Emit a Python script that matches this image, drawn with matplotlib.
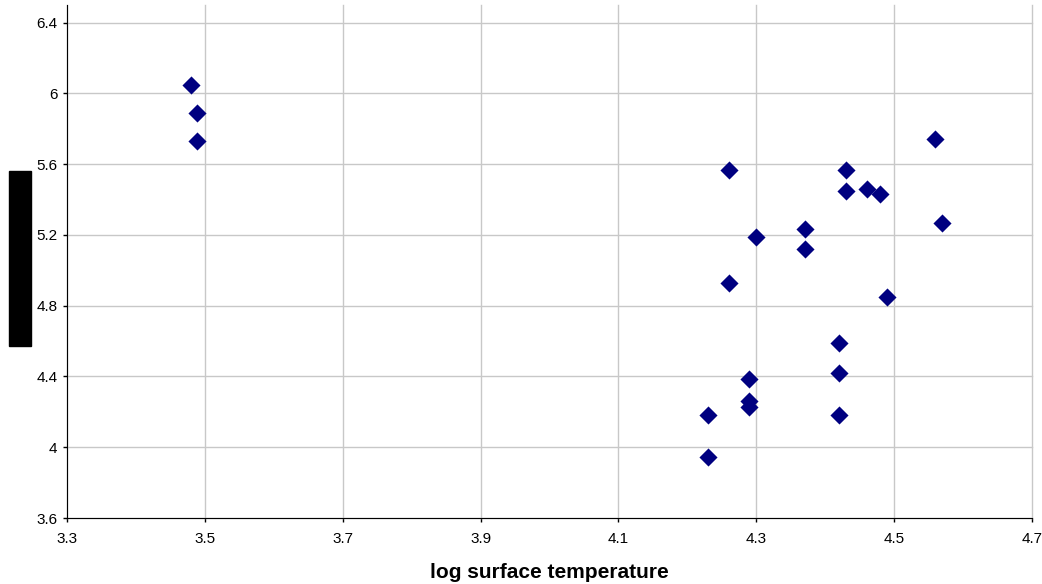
import matplotlib
matplotlib.use('Agg')
import matplotlib.pyplot as plt
from matplotlib.patches import Rectangle

plt.rcParams['font.family'] = ['Liberation Sans', 'DejaVu Sans']

# Data
log_temp = [3.48, 3.489, 3.489, 4.26, 4.26, 4.30, 4.37, 4.37, 4.43, 4.43, 4.46, 4.48,
            4.56, 4.57, 4.49, 4.42, 4.42, 4.42, 4.29, 4.29, 4.29, 4.23, 4.23]
log_lum = [6.05, 5.89, 5.73, 5.57, 4.93, 5.19, 5.235, 5.12, 5.57, 5.45, 5.46, 5.43,
           5.745, 5.27, 4.85, 4.59, 4.42, 4.18, 4.385, 4.26, 4.23, 4.18, 3.945]
x_ticks = [3.3, 3.5, 3.7, 3.9, 4.1, 4.3, 4.5, 4.7]
y_ticks = [3.6, 4.0, 4.4, 4.8, 5.2, 5.6, 6.0, 6.4]
y_labels = ['3.6', '4', '4.4', '4.8', '5.2', '5.6', '6', '6.4']

fig = plt.figure(figsize=(10.42, 5.84), dpi=100)
ax = fig.add_axes([0.0643, 0.113, 0.9261, 0.8784])

ax.scatter(log_temp, log_lum, marker='D', s=85, color='#000080', zorder=3, linewidths=0)

ax.set_xlim(3.3, 4.7)
ax.set_ylim(3.6, 6.5)
ax.set_xticks(x_ticks)
ax.set_xticklabels([str(v) for v in x_ticks])
ax.set_yticks(y_ticks)
ax.set_yticklabels(y_labels)
ax.grid(True, color='#c8c8c8', linewidth=1, clip_on=False)
ax.set_axisbelow(True)
ax.tick_params(direction='out', length=3, width=1, labelsize=11)
ax.tick_params(axis='x', pad=7)
ax.tick_params(axis='y', pad=4)
ax.spines['top'].set_visible(False)
ax.spines['right'].set_visible(False)

ax.set_xlabel('log surface temperature', fontsize=15, fontweight='bold', labelpad=12)

# redacted y-axis label box
fig.patches.append(Rectangle((9 / 1042, 238 / 584), 22 / 1042, 175 / 584,
                             transform=fig.transFigure, color='black'))

fig.savefig('out.png', dpi=100)
